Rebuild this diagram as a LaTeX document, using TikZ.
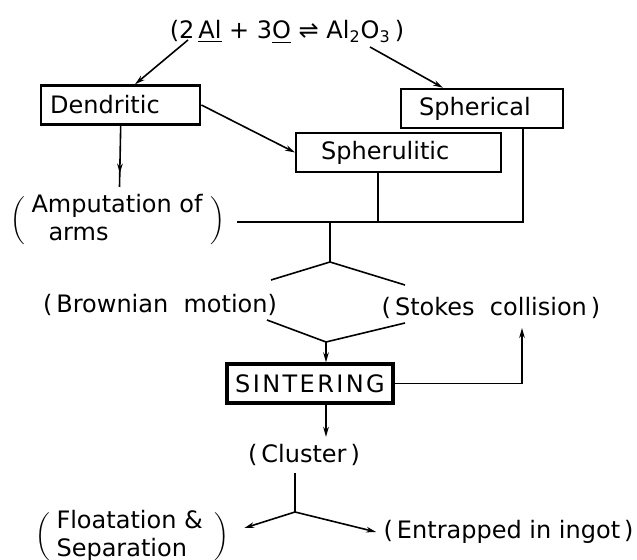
\documentclass[tikz,border=0pt]{standalone}
\usepackage{fontspec}
\setmainfont{DejaVu Sans}
\usetikzlibrary{arrows.meta,decorations.markings}

\begin{document}
\begin{tikzpicture}[x=0.5pt,y=-0.5pt,font=\fontsize{12}{14}\selectfont,
  line width=0.8pt,
  arr/.style={-{Stealth[length=5pt,width=2.8pt]}},
  tipat/.style={postaction={decorate},decoration={markings,
    mark=at position #1 with {\arrow{Stealth[length=5pt,width=2.8pt]}}}},
  box/.style={draw,line width=1.2pt,minimum height=19.5pt,align=left,anchor=west}]
  \useasboundingbox (0,0) rectangle (637,560);

  % Reaction at the top, and the three inclusion shapes it gives.
  \node (eq) at (287,32)
    {(2\,\underline{Al} + 3\underline{O} ⇌ Al\textsubscript{2}O\textsubscript{3}\,)};
  \coordinate (eqL) at (188,40);
  \coordinate (eqR) at (370,47);
  \node[box,text width=70.5pt,inner xsep=4.5pt] (dend) at (40,105) {Dendritic};
  \node[box,text width=63pt,inner xsep=9pt] (spher) at (400,108.5) {Spherical};
  \node[box,text width=77.5pt,inner xsep=12.5pt] (spheru) at (295,152.5) {Spherulitic};
  \draw[arr] (eqL) -- ([xshift=47.5pt]dend.north west);
  \draw[arr] (eqR) -- ([xshift=21.5pt]spher.north west);
  \draw[arr] (dend.east) -- (spheru.west);

  % Broken dendrite arms.
  \node[anchor=west,inner sep=0pt] (amp) at (10,221)
    {$\bigg($\hspace{3pt}\begin{tabular}{@{}l@{}}Amputation of\\
      \hspace{8.5pt}arms\end{tabular}\hspace{4pt}$\bigg)$};
  \coordinate (armsIn) at (119.5,187);
  \draw[tipat=0.78] (dend.south) -- (armsIn);

  % Collecting line under the three shapes.
  \coordinate (collL) at (237,222);
  \coordinate (collM) at (330,222);
  \draw ([xshift=-10.25pt]spheru.south) -- ([xshift=-10.25pt]spheru.south |- collL);
  \draw (collL) -| ([xshift=20.5pt]spher.south);

  % Two collision mechanisms.
  \coordinate (splitT) at (330,262);
  \coordinate (brownIn) at (271,280);
  \coordinate (stokesIn) at (405,285);
  \draw (collM) -- (splitT);
  \draw (brownIn) -- (splitT) -- (stokesIn);
  \node (brown) at (160,305) {(\,Brownian\ \ motion)};
  \node (stokes) at (491,308) {(\,Stokes\ \ collision\,)};
  \coordinate (brownOut) at (267,320);
  \coordinate (stokesOut) at (405,323);
  \coordinate (joinB) at (326,342);
  \draw (brownOut) -- (joinB) -- (stokesOut);

  % Sintering, with the loop back to Stokes collision.
  \node[draw,line width=1.6pt,minimum width=83pt,minimum height=19.5pt] (sint)
    at (310,383.5) {\addfontfeature{LetterSpace=10}SINTERING};
  \coordinate (stokesBack) at (522,328);
  \draw[arr] (joinB) -- (joinB |- sint.north);
  \draw[arr] (sint.east) -| (stokesBack);

  % Clusters and where they end up.
  \node (cluster) at (304,455) {(\,Cluster\,)};
  \draw[arr] (sint.south -| joinB) -- (joinB |- cluster.north);
  \coordinate (splitC) at (295,512);
  \draw ([xshift=-4.5pt]cluster.south) -- (splitC);
  \node[anchor=west,inner sep=0pt] (float) at (35,537)
    {$\bigg($\hspace{3pt}\begin{tabular}{@{}l@{}}Floatation \&\\
      Separation\end{tabular}\hspace{6pt}$\bigg)$};
  \node[anchor=east] (entr) at (641,532) {(\,Entrapped\ in\ ingot\,)};
  \draw[arr] (splitC) -- ([shift={(7pt,4.5pt)}]float.east);
  \draw[arr] (splitC) -- (entr.west);
\end{tikzpicture}
\end{document}
